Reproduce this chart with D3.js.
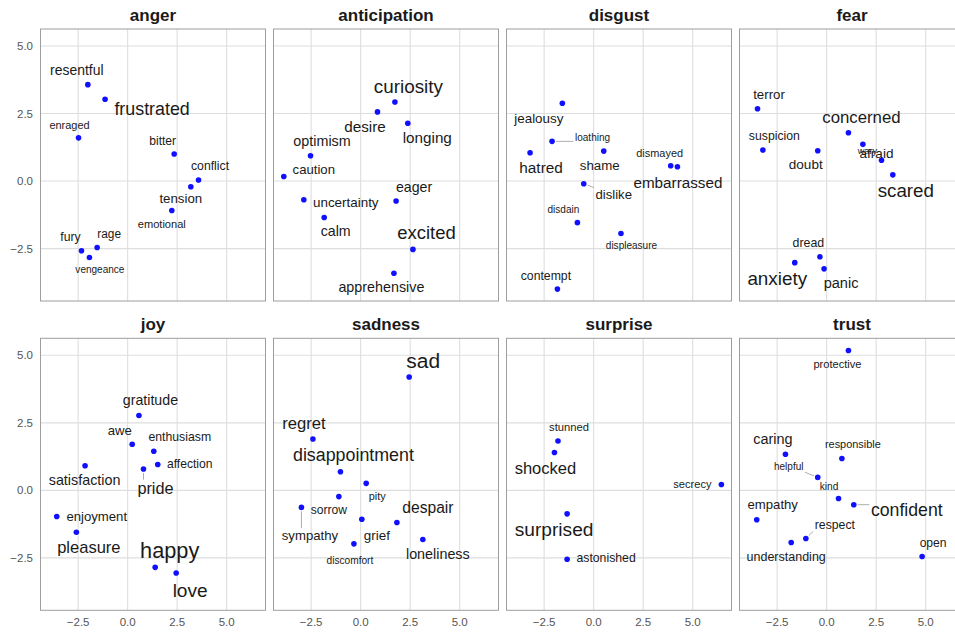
<!DOCTYPE html>
<html>
<head>
<meta charset="utf-8">
<script src="https://cdn.jsdelivr.net/npm/d3@7"></script>
<style>
  html, body { margin: 0; padding: 0; background: #fff; }
  svg { display: block; font-family: "Liberation Sans", Arial, Helvetica, sans-serif; }
</style>
</head>
<body>
<svg id="chart" width="955" height="632"></svg>
<script>
// Word embeddings projected to 2D, grouped by emotion.
// Each entry: [word, dim1, dim2, salience]
const emotions = ["anger", "anticipation", "disgust", "fear", "joy", "sadness", "surprise", "trust"];

const anger = [
  ["resentful", -2.01, 3.57, 0.38], ["frustrated", -1.14, 3.03, 0.68], ["enraged", -2.48, 1.60, 0.15],
  ["bitter", 2.35, 1.00, 0.24], ["conflict", 3.58, 0.04, 0.25], ["tension", 3.19, -0.21, 0.33],
  ["emotional", 2.23, -1.09, 0.16], ["fury", -2.33, -2.58, 0.25], ["rage", -1.54, -2.46, 0.22],
  ["vengeance", -1.93, -2.83, 0.08]
];
const anticipation = [
  ["curiosity", 1.73, 2.93, 0.76], ["desire", 0.85, 2.56, 0.48], ["longing", 2.38, 2.14, 0.48],
  ["optimism", -2.53, 0.94, 0.41], ["caution", -3.88, 0.17, 0.32], ["uncertainty", -2.87, -0.69, 0.34],
  ["calm", -1.84, -1.35, 0.40], ["eager", 1.79, -0.74, 0.40], ["excited", 2.64, -2.53, 0.73],
  ["apprehensive", 1.68, -3.41, 0.41]
];
const disgust = [
  ["jealousy", -1.58, 2.88, 0.34], ["loathing", -2.10, 1.47, 0.08], ["hatred", -3.21, 1.05, 0.49],
  ["shame", 0.51, 1.11, 0.33], ["dismayed", 3.89, 0.57, 0.15], ["embarrassed", 4.23, 0.53, 0.48],
  ["dislike", -0.50, -0.10, 0.32], ["disdain", -0.82, -1.54, 0.08], ["displeasure", 1.38, -1.94, 0.08],
  ["contempt", -1.83, -4.00, 0.25]
];
const fear = [
  ["terror", -3.49, 2.68, 0.33], ["suspicion", -3.22, 1.15, 0.25], ["doubt", -0.45, 1.12, 0.35],
  ["concerned", 1.10, 1.79, 0.60], ["wary", 1.83, 1.36, 0.02], ["afraid", 2.77, 0.77, 0.35],
  ["scared", 3.34, 0.23, 0.75], ["dread", -0.34, -2.80, 0.26], ["anxiety", -1.61, -3.02, 0.76],
  ["panic", -0.13, -3.25, 0.43]
];
const joy = [
  ["gratitude", 0.57, 2.77, 0.40], ["awe", 0.23, 1.71, 0.32], ["enthusiasm", 1.32, 1.45, 0.25],
  ["affection", 1.52, 0.96, 0.24], ["pride", 0.80, 0.79, 0.56], ["satisfaction", -2.15, 0.91, 0.41],
  ["enjoyment", -3.58, -0.97, 0.32], ["pleasure", -2.59, -1.55, 0.58], ["happy", 1.39, -2.85, 0.98],
  ["love", 2.45, -3.06, 0.78]
];
const sadness = [
  ["sad", 2.45, 4.20, 0.92], ["regret", -2.41, 1.90, 0.59], ["disappointment", -1.02, 0.69, 0.68],
  ["pity", 0.28, 0.26, 0.15], ["sorrow", -1.10, -0.23, 0.24], ["sympathy", -2.99, -0.63, 0.32],
  ["grief", 0.06, -1.07, 0.34], ["despair", 1.83, -1.19, 0.51], ["discomfort", -0.34, -1.98, 0.09],
  ["loneliness", 3.14, -1.82, 0.41]
];
const surprise = [
  ["stunned", -1.80, 1.83, 0.17], ["shocked", -1.98, 1.40, 0.58], ["secrecy", 6.45, 0.22, 0.16],
  ["surprised", -1.34, -0.87, 0.78], ["astonished", -1.34, -2.55, 0.25]
];
const trust = [
  ["protective", 1.10, 5.18, 0.16], ["caring", -2.08, 1.34, 0.42], ["responsible", 0.77, 1.18, 0.15],
  ["helpful", -0.45, 0.48, 0.08], ["kind", 0.60, -0.30, 0.09], ["confident", 1.37, -0.53, 0.67],
  ["empathy", -3.53, -1.09, 0.32], ["respect", -1.05, -1.78, 0.25], ["understanding", -1.79, -1.93, 0.27],
  ["open", 4.82, -2.45, 0.24]
];

const groups = { anger, anticipation, disgust, fear, joy, sadness, surprise, trust };

const xTicks = [-2.5, 0, 2.5, 5];
const yTicks = [-2.5, 0, 2.5, 5];

// Label placement (offset of the text baseline-centre from its point, px) and leader lines.
const labelNudge = {
  resentful: [-11, -10], frustrated: [47, 16], enraged: [-9, -9], bitter: [-11.5, -9.5],
  conflict: [11.5, -9.5], tension: [-10, 16], emotional: [-10, 17.5], fury: [-11, -10],
  rage: [12, -9.5], vengeance: [10.5, 15.5],
  curiosity: [13.5, -9], desire: [-12.5, 20], longing: [19.5, 20], optimism: [11.5, -10],
  caution: [30, -2], uncertainty: [42, 7], calm: [11.5, 18.5], eager: [18, -9.5],
  excited: [13.5, -10], apprehensive: [-12.5, 19],
  jealousy: [-23.5, 19.5], loathing: [40.5, 0], hatred: [11, 20.5], shame: [-4, 18.5],
  dismayed: [-11, -9], embarrassed: [0.5, 21], dislike: [30, 15.5], disdain: [-14, -10],
  displeasure: [10.5, 16], contempt: [-11.5, -9.5],
  terror: [11.5, -10], suspicion: [11.5, -10.5], concerned: [13, -10], wary: [4.5, 9.5],
  afraid: [-5, -2.5], doubt: [-12, 18.5], scared: [13, 22.5], dread: [-11.5, -10],
  anxiety: [-17.5, 22.5], panic: [17, 19],
  gratitude: [11.5, -10.5], awe: [-12.5, -9.5], enthusiasm: [26, -10], affection: [32, 3.5],
  satisfaction: [-0.5, 19], pride: [12, 25], enjoyment: [40, 4.5], pleasure: [12.5, 20.5],
  happy: [14.5, -9], love: [14, 24],
  sad: [14, -8.5], regret: [-9, -10], disappointment: [13, -10.5], pity: [11, 17],
  sorrow: [-10, 17.5], sympathy: [8.5, 32.5], grief: [15, 20.5], despair: [31, -9.5],
  discomfort: [-4, 20], loneliness: [15, 19],
  stunned: [11, -9.5], shocked: [-9, 21], secrecy: [-29, 3.5], surprised: [-13, 22.5],
  astonished: [39, 3],
  protective: [-11, 17.5], caring: [-12.5, -10], responsible: [11, -10.5], helpful: [-29, -7],
  kind: [-9.5, -8.5], confident: [53, 11.5], empathy: [16, -10.5], respect: [29, -9.5],
  understanding: [-5, 18.5], open: [11, -9.5]
};
const leaderLines = new Set(["loathing", "dislike", "pride", "sympathy", "helpful", "confident", "respect"]);

// Layout
const W = 955, H = 632;
const panelW = 225, panelH = 272;
const panelLeft0 = 40.5, panelStep = 233;
const rowTops = [29, 338.3];
const nCols = 4;

const svg = d3.select("#chart");
svg.append("rect").attr("width", W).attr("height", H).attr("fill", "#fff");

const x = d3.scaleLinear().domain([-4.4, 6.96]).range([0, panelW]);
const y = d3.scaleLinear().domain([-4.44, 5.63]).range([panelH, 0]);
const fontSize = d3.scaleLinear().domain([0, 1]).range([9, 22]);
const fmt = d3.format(".1f");

emotions.forEach((emo, i) => {
  const col = i % nCols, row = Math.floor(i / nCols);
  const g = svg.append("g")
    .attr("transform", `translate(${panelLeft0 + col * panelStep},${rowTops[row]})`);

  // grid
  g.selectAll("line.gx").data(xTicks).join("line")
    .attr("x1", d => x(d)).attr("x2", d => x(d))
    .attr("y1", 0).attr("y2", panelH)
    .attr("stroke", "#dedede").attr("stroke-width", 1.1);
  g.selectAll("line.gy").data(yTicks).join("line")
    .attr("x1", 0).attr("x2", panelW)
    .attr("y1", d => y(d)).attr("y2", d => y(d))
    .attr("stroke", "#dedede").attr("stroke-width", 1.1);

  // border
  g.append("rect").attr("x", 0).attr("y", 0).attr("width", panelW).attr("height", panelH)
    .attr("fill", "none").attr("stroke", "#9e9e9e").attr("stroke-width", 1);

  // strip title
  g.append("text").attr("x", panelW / 2).attr("y", -8.5)
    .attr("text-anchor", "middle").attr("font-weight", "bold").attr("font-size", 17)
    .attr("fill", "#1a1a1a").text(emo);

  // axes
  if (col === 0) {
    g.selectAll("text.yt").data(yTicks).join("text")
      .attr("x", -7.5).attr("y", d => y(d)).attr("dy", "0.35em")
      .attr("text-anchor", "end").attr("font-size", 11.5).attr("fill", "#555")
      .text(d => fmt(d));
  }
  if (row === 1) {
    g.selectAll("text.xt").data(xTicks).join("text")
      .attr("x", d => x(d)).attr("y", panelH + 15.5)
      .attr("text-anchor", "middle").attr("font-size", 11.5).attr("fill", "#555")
      .text(d => fmt(d));
  }

  const data = groups[emo].map(([word, d1, d2, s]) => ({ word, d1, d2, s }));

  const segG = g.append("g");
  const ptG = g.append("g");
  const lblG = g.append("g");

  ptG.selectAll("circle").data(data).join("circle")
    .attr("cx", d => x(d.d1)).attr("cy", d => y(d.d2)).attr("r", 2.8)
    .attr("fill", "#1010ff");

  const labels = lblG.selectAll("text").data(data).join("text")
    .attr("x", d => x(d.d1) + labelNudge[d.word][0])
    .attr("y", d => y(d.d2) + labelNudge[d.word][1])
    .attr("text-anchor", "middle")
    .attr("font-size", d => fontSize(d.s))
    .attr("fill", "#1a1a1a")
    .text(d => d.word);

  // leader lines from a point to the nearest edge of its label
  labels.filter(d => leaderLines.has(d.word)).each(function (d) {
    const b = this.getBBox();
    const px = x(d.d1), py = y(d.d2);
    const pad = 1.5;
    const bx0 = b.x - pad, bx1 = b.x + b.width + pad;
    const by0 = b.y + b.height * 0.12 - pad, by1 = b.y + b.height * 0.85 + pad;
    const tx = Math.max(bx0, Math.min(px, bx1));
    const ty = Math.max(by0, Math.min(py, by1));
    const dx = tx - px, dy = ty - py, len = Math.hypot(dx, dy);
    if (len < 6) return;
    const start = 4 / len;
    segG.append("line")
      .attr("x1", px + dx * start).attr("y1", py + dy * start)
      .attr("x2", tx).attr("y2", ty)
      .attr("stroke", "#999").attr("stroke-width", 0.8);
  });
});
</script>
</body>
</html>
